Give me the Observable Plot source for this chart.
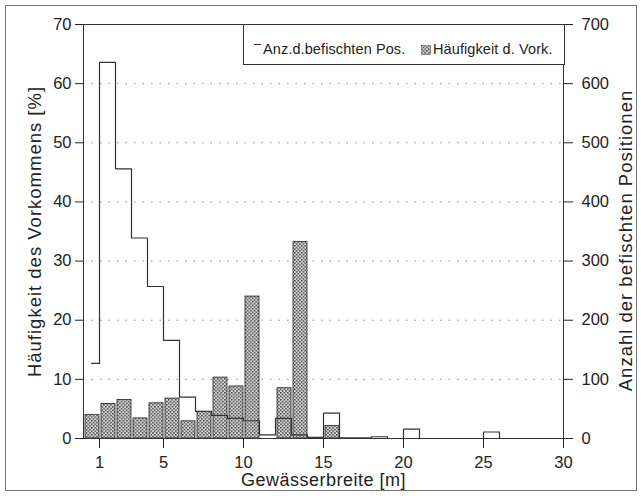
<!DOCTYPE html>
<html><head><meta charset="utf-8">
<script src="https://cdn.jsdelivr.net/npm/d3@7"></script>
<script src="https://cdn.jsdelivr.net/npm/@observablehq/plot@0.6"></script>
<style>
body{margin:0;background:#fff;font-family:"Liberation Sans",Arial,sans-serif;}
#wrap{position:relative;width:641px;height:498px;overflow:hidden;}
#wrap svg{position:absolute;left:0;top:0;}
#border{position:absolute;left:5px;top:5px;width:632px;height:486px;border:1.5px solid #777;box-sizing:border-box;pointer-events:none;}
#legend{position:absolute;left:243px;top:24px;width:322px;height:41px;border:1px solid #333;background:#fff;box-sizing:border-box;font-size:14.5px;letter-spacing:0.1px;color:#222;}
#legend .it{position:absolute;top:16px;line-height:17px;white-space:nowrap;}
#legend .dash{position:absolute;left:10px;top:19px;width:7px;border-top:1px solid #333;}
#legend svg{position:absolute;left:177px;top:20px;}
</style></head>
<body>
<div id="wrap">
  <div id="chart"></div>
  <div id="legend">
    <div class="dash"></div>
    <div class="it" style="left:19px">Anz.d.befischten Pos.</div>
    <svg width="10" height="10"><defs><pattern id="stip2" width="3.5" height="3.5" patternUnits="userSpaceOnUse"><rect width="3.5" height="3.5" fill="#dadada"/><rect width="1.5" height="1.5" fill="#3a3a3a"/><rect x="1.75" y="1.75" width="1.5" height="1.5" fill="#3a3a3a"/></pattern></defs><rect x="0.5" y="0.5" width="9" height="9" fill="url(#stip2)" stroke="#555" stroke-width="0.6"/></svg>
    <div class="it" style="left:189px">Häufigkeit d. Vork.</div>
  </div>
  <div id="border"></div>
</div>
<script>
// Bins of river width (lower edge, m)
const binLow = [0,1,2,3,4,5,6,7,8,9,10,11,12,13,14,15,16,17,18,19,20,21,22,23,24,25,26,27,28,29];
// Häufigkeit des Vorkommens [%] (bars, left axis)
const anteil = [4.0,5.85,6.5,3.4,5.95,6.75,2.9,4.5,10.3,8.8,24.0,0,8.5,33.2,0,2.1,0,0,0,0,0,0,0,0,0,0,0,0,0,0];
// Anzahl der befischten Positionen (step line, right axis)
const anzahl = [127,636,456,339,257,166,70,46,39,34,30,6,34,6,2,43,1,1,3,0,16,0,0,0,0,11,0,0,0,0];
const xTicks = [1,5,10,15,20,25,30];
const yTicksLeft = [0,10,20,30,40,50,60,70];
const gridLines = [10,20,30,40,50,60];
const rightFactor = 10; // right axis (0–700) = 10 × left axis (0–70)

const rows = binLow.map((b,i)=>({lo:b, hi:b+1, mid:b+0.5, anteil:anteil[i], anzahl:anzahl[i]}));

const svg = Plot.plot({
  width:641, height:498,
  marginLeft:83, marginRight:78, marginTop:24, marginBottom:60,
  x:{domain:[0,30]},
  y:{domain:[0,70]},
  style:{fontFamily:"'Liberation Sans', Arial, sans-serif", fontSize:"16px", color:"#222", background:"transparent", overflow:"visible"},
  marks:[
    Plot.ruleY(gridLines,{stroke:"#888", strokeDasharray:"1.5,7", strokeWidth:1}),
    Plot.rectY(rows.filter(d=>d.anteil>0),{x1:"lo", x2:"hi", y:"anteil", fill:"url(#stip)", stroke:"#222", strokeWidth:0.8, insetLeft:2, insetRight:0}),
    Plot.line(rows,{x:"mid", y:d=>d.anzahl/rightFactor, curve:"step", stroke:"#333", strokeWidth:1.2}),
    Plot.frame({stroke:"#333"}),
    Plot.axisX({ticks:xTicks, tickSize:10, tickPadding:8, label:null, fontSize:16.5}),
    Plot.axisY({ticks:yTicksLeft, anchor:"left", tickSize:8, tickPadding:4, label:null, fontSize:16.5}),
    Plot.axisY({ticks:yTicksLeft, anchor:"right", tickSize:9, tickPadding:9, tickFormat:d=>d*rightFactor, label:null, fontSize:16.5}),
    Plot.text(["Gewässerbreite [m]"],{frameAnchor:"bottom", lineAnchor:"middle", textAnchor:"middle", dy:42, fontSize:18, fill:"#222"}),
    Plot.text(["Häufigkeit des Vorkommens [%]"],{frameAnchor:"left", lineAnchor:"middle", textAnchor:"middle", dx:-48, rotate:-90, fontSize:18.5, fill:"#222"}),
    Plot.text(["Anzahl der befischten Positionen"],{frameAnchor:"right", lineAnchor:"middle", textAnchor:"middle", dx:63, dy:9, rotate:-90, fontSize:18.5, fill:"#222"})
  ]
});

const defs = d3.select(svg).insert("defs",":first-child");
const pat = defs.append("pattern").attr("id","stip").attr("width",3.5).attr("height",3.5).attr("patternUnits","userSpaceOnUse");
pat.append("rect").attr("width",3.5).attr("height",3.5).attr("fill","#dadada");
pat.append("rect").attr("width",1.5).attr("height",1.5).attr("fill","#3a3a3a");
pat.append("rect").attr("x",1.75).attr("y",1.75).attr("width",1.5).attr("height",1.5).attr("fill","#3a3a3a");

// letter spacing for the axis titles
d3.select(svg).selectAll("text").each(function(){
  const t = this.textContent;
  if (t === "Gewässerbreite [m]") this.setAttribute("letter-spacing","0.5");
  if (t === "Häufigkeit des Vorkommens [%]" || t === "Anzahl der befischten Positionen") this.setAttribute("letter-spacing","1");
});

document.getElementById("chart").appendChild(svg);
</script>
</body></html>
